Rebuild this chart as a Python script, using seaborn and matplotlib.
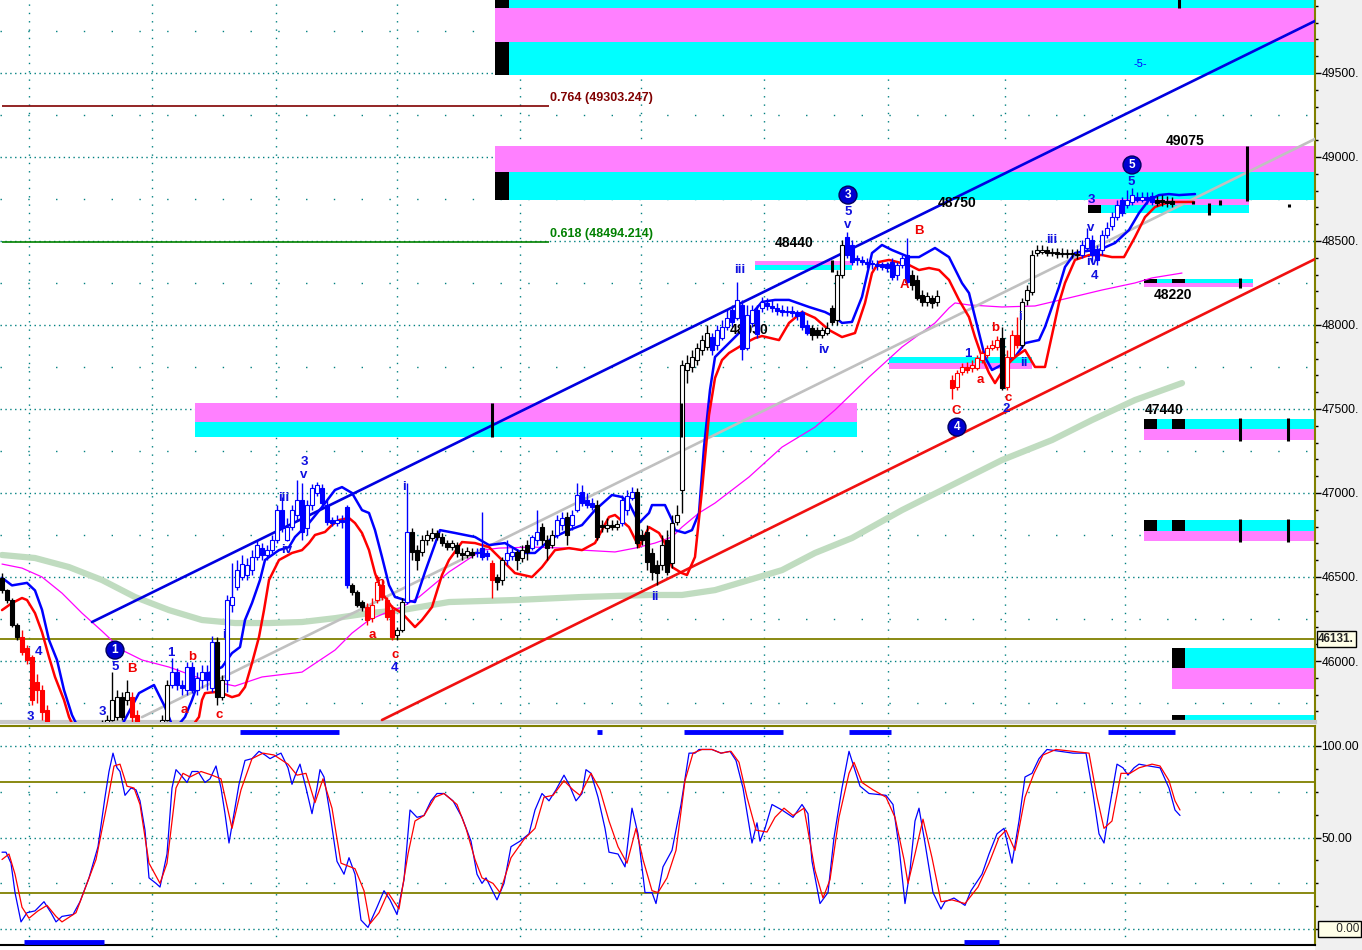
import matplotlib
matplotlib.use("Agg")
import matplotlib.pyplot as plt
from matplotlib.patches import Rectangle
from matplotlib.ticker import MultipleLocator
import numpy as np
import pandas as pd
import seaborn as sns

sns.set_style("white")
plt.rcParams['font.family'] = ['Liberation Sans', 'DejaVu Sans']

# 5 minute bars, x axis = minutes from the left edge
BAR_MIN = 5

# candles (open, high, low, close)
bars_drop = [
    (46495, 46525, 46405, 46420), (46420, 46430, 46345, 46365), (46365, 46375, 46205, 46215),
    (46215, 46225, 46125, 46145), (46140, 46185, 46035, 46055), (46080, 46095, 45980, 46005),
    (46025, 46035, 45740, 45770), (45875, 45920, 45750, 45830), (45830, 45860, 45650, 45695),
    (45710, 45740, 45560, 45590), (45590, 45620, 45470, 45500), (45500, 45520, 45420, 45440),
    (45440, 45460, 45360, 45380), (45380, 45430, 45360, 45410), (45410, 45420, 45330, 45350),
    (45350, 45400, 45330, 45380), (45380, 45480, 45370, 45470), (45470, 45510, 45450, 45500),
    (45500, 45540, 45480, 45530), (45530, 45570, 45510, 45560),
]
bars_wave1 = [
    (45560, 45650, 45530, 45620), (45620, 45680, 45590, 45650), (45650, 45935, 45640, 45770),
    (45665, 45830, 45650, 45785), (45785, 45815, 45650, 45665), (45770, 45885, 45740, 45815),
    (45785, 45815, 45620, 45665), (45680, 45710, 45530, 45560), (45560, 45580, 45480, 45500),
    (45500, 45520, 45450, 45470), (45470, 45520, 45460, 45500), (45500, 45570, 45490, 45560),
    (45560, 45680, 45530, 45650), (45650, 45885, 45640, 45860), (45860, 46020, 45840, 45935),
    (45935, 45960, 45830, 45860), (45860, 45885, 45800, 45840), (45830, 45995, 45800, 45965),
    (45965, 45995, 45810, 45830), (45830, 45935, 45800, 45900), (45885, 45975, 45840, 45935),
    (45935, 45975, 45830, 45885), (45840, 46150, 45815, 46115), (46115, 46145, 45740, 45785),
    (45785, 45915, 45770, 45885),
]
bars_wave3 = [
    (45885, 46390, 45815, 46365), (46335, 46585, 46290, 46380), (46440, 46600, 46420, 46540),
    (46500, 46630, 46480, 46580), (46510, 46615, 46480, 46570), (46540, 46660, 46510, 46620),
    (46620, 46720, 46600, 46690), (46670, 46700, 46600, 46630), (46630, 46690, 46600, 46660),
    (46660, 46750, 46645, 46720), (46720, 46930, 46700, 46900), (46900, 46975, 46770, 46790),
    (46720, 46850, 46715, 46800), (46800, 46930, 46780, 46900), (46870, 47075, 46840, 46960),
    (46960, 47060, 46720, 46770), (46790, 46960, 46750, 46930), (46930, 47055, 46900, 47030),
    (47000, 47065, 46980, 47045), (47030, 47055, 46920, 46940), (46930, 46960, 46810, 46825),
    (46840, 46855, 46805, 46820), (46820, 46870, 46805, 46840), (46840, 46870, 46790, 46825),
    (46915, 46930, 46435, 46450),
]
bars_wave4 = [
    (46450, 46465, 46395, 46410), (46410, 46420, 46320, 46335), (46350, 46365, 46300, 46320),
    (46320, 46345, 46215, 46245), (46255, 46375, 46230, 46335), (46365, 46510, 46345, 46470),
    (46450, 46480, 46365, 46380), (46365, 46380, 46245, 46260), (46305, 46335, 46125, 46145),
    (46155, 46200, 46125, 46185), (46185, 46375, 46170, 46350), (46350, 47060, 46340, 46770),
    (46770, 46790, 46600, 46650), (46660, 46690, 46540, 46600), (46650, 46750, 46625, 46720),
    (46720, 46780, 46690, 46750), (46730, 46790, 46715, 46760), (46760, 46780, 46720, 46740),
    (46740, 46760, 46685, 46700), (46700, 46720, 46660, 46680), (46680, 46720, 46660, 46700),
    (46690, 46710, 46620, 46645), (46645, 46675, 46600, 46630), (46630, 46680, 46615, 46655),
    (46650, 46675, 46615, 46630), (46650, 46675, 46620, 46640), (46675, 46885, 46600, 46620),
    (46645, 46660, 46600, 46625), (46585, 46600, 46375, 46480), (46500, 46520, 46420, 46470),
    (46480, 46620, 46450, 46600), (46600, 46720, 46570, 46645), (46625, 46675, 46600, 46650),
    (46650, 46660, 46540, 46600), (46615, 46690, 46590, 46660), (46690, 46720, 46600, 46650),
    (46675, 46750, 46660, 46740), (46720, 46900, 46690, 46770), (46800, 46820, 46690, 46720),
    (46720, 46750, 46600, 46675), (46690, 46780, 46675, 46750), (46750, 46870, 46730, 46840),
    (46810, 46885, 46780, 46850), (46855, 46885, 46690, 46750), (46810, 46900, 46780, 46870),
    (46900, 47060, 46885, 46990), (47005, 47045, 46920, 46940), (46960, 47000, 46910, 46930),
    (46940, 46970, 46900, 46915), (46930, 46960, 46720, 46740), (46810, 46840, 46770, 46800),
    (46790, 46850, 46770, 46810), (46810, 46840, 46780, 46800), (46800, 46840, 46780, 46815),
    (46820, 46990, 46805, 46960), (46900, 47020, 46870, 46980), (46970, 47035, 46960, 47005),
    (47005, 47030, 46670, 46700), (46750, 46780, 46690, 46720), (46770, 46810, 46540, 46590),
    (46645, 46675, 46480, 46530), (46570, 46600, 46450, 46525), (46570, 46750, 46540, 46690),
    (46720, 46780, 46510, 46530), (46585, 46870, 46555, 46820), (46825, 46930, 46810, 46870),
]
bars_rally = [
    (47015, 47790, 46880, 47760), (47730, 47820, 47655, 47775), (47750, 47850, 47720, 47810),
    (47790, 47895, 47760, 47865), (47850, 47940, 47820, 47910), (47870, 48000, 47850, 47950),
    (47930, 47955, 47820, 47850), (47880, 48000, 47850, 47970), (47925, 48030, 47910, 47985),
    (47985, 48090, 47970, 48040), (48090, 48120, 47985, 48015), (48040, 48255, 48030, 48150),
    (48120, 48150, 47790, 47855), (47865, 48120, 47850, 48060), (48010, 48120, 47985, 48090),
    (48090, 48120, 47925, 47945), (48100, 48165, 48075, 48135), (48130, 48160, 48090, 48110),
    (48115, 48150, 48075, 48100), (48100, 48130, 48060, 48085), (48090, 48120, 48055, 48080),
    (48085, 48110, 48055, 48075), (48085, 48110, 48045, 48070), (48075, 48090, 48030, 48055),
    (48075, 48090, 47970, 47985), (48000, 48030, 47940, 47955), (47980, 48000, 47910, 47940),
    (47970, 47985, 47925, 47940), (47940, 47985, 47925, 47970), (47955, 48015, 47940, 47980),
    (48100, 48120, 48000, 48015), (48030, 48325, 48000, 48295), (48295, 48505, 48280, 48475),
]
bars_top3 = [
    (48525, 48555, 48400, 48415), (48475, 48505, 48355, 48375), (48400, 48415, 48355, 48385),
    (48385, 48410, 48355, 48375), (48375, 48400, 48340, 48365), (48370, 48385, 48335, 48360),
    (48365, 48385, 48325, 48350), (48360, 48375, 48325, 48345), (48360, 48375, 48315, 48340),
    (48375, 48400, 48270, 48285), (48295, 48375, 48270, 48355), (48355, 48415, 48340, 48400),
    (48415, 48515, 48240, 48255), (48295, 48325, 48210, 48240), (48270, 48295, 48150, 48160),
    (48180, 48210, 48115, 48135), (48135, 48195, 48115, 48170), (48160, 48180, 48100, 48130),
    (48135, 48210, 48115, 48175),
]
bars_gap = [None, None]
bars_wave4b = [
    (47670, 47700, 47560, 47625), (47630, 47730, 47610, 47715), (47720, 47775, 47700, 47750),
    (47750, 47780, 47715, 47730), (47745, 47790, 47720, 47760), (47745, 47820, 47730, 47805),
    (47790, 47850, 47775, 47835), (47820, 47880, 47805, 47865), (47865, 47910, 47850, 47880),
    (47870, 47935, 47850, 47910), (47925, 47985, 47615, 47625), (47630, 47850, 47615, 47810),
    (47810, 47970, 47790, 47940), (47940, 48045, 47865, 47880), (47880, 48160, 47865, 48135),
    (48150, 48240, 48120, 48210), (48195, 48445, 48180, 48415), (48430, 48475, 48410, 48445),
    (48435, 48475, 48420, 48445), (48445, 48470, 48410, 48430), (48430, 48460, 48410, 48435),
    (48435, 48460, 48400, 48425), (48425, 48460, 48405, 48430), (48430, 48455, 48400, 48420),
    (48420, 48450, 48400, 48425), (48425, 48450, 48390, 48415),
]
bars_wave5 = [
    (48415, 48505, 48400, 48475), (48460, 48580, 48445, 48520), (48505, 48535, 48375, 48415),
    (48445, 48475, 48355, 48385), (48445, 48565, 48415, 48535), (48535, 48615, 48520, 48580),
    (48590, 48670, 48565, 48645), (48645, 48745, 48625, 48715), (48745, 48760, 48650, 48665),
    (48715, 48805, 48695, 48745), (48730, 48815, 48715, 48775), (48760, 48790, 48730, 48745),
    (48745, 48790, 48730, 48760), (48760, 48790, 48720, 48745), (48765, 48790, 48715, 48730),
    (48745, 48770, 48710, 48725), (48745, 48775, 48710, 48730), (48740, 48765, 48705, 48725),
    (48735, 48760, 48700, 48720),
]

# wave colouring of the bars (first bar, last bar, scheme)
color_runs = [
    (0, 3, 'bw'), (4, 19, 'red'), (20, 25, 'bw'), (26, 31, 'red'), (32, 33, 'bw'),
    (34, 42, 'blue'), (43, 44, 'bw'), (45, 69, 'blue'), (70, 72, 'bw'), (73, 78, 'red'),
    (79, 80, 'bw'), (81, 81, 'blue'), (82, 94, 'bw'), (95, 97, 'blue'), (98, 98, 'red'),
    (99, 100, 'bw'), (101, 102, 'blue'), (103, 105, 'bw'), (106, 107, 'blue'), (108, 110, 'bw'),
    (111, 112, 'blue'), (113, 113, 'bw'), (114, 118, 'blue'), (119, 123, 'bw'), (124, 126, 'blue'),
    (127, 141, 'bw'), (142, 161, 'blue'), (162, 168, 'bw'), (169, 181, 'blue'), (182, 189, 'bw'),
    (190, 199, 'red'), (200, 200, 'bw'), (201, 203, 'red'), (204, 215, 'bw'), (216, 230, 'blue'),
    (231, 234, 'bw'),
]

# envelope bands (minute, price)
env_up_t = [0, 10, 25, 33, 40, 47, 55, 62, 70, 80, 100, 120, 137, 152, 163, 172, 183, 190, 197, 207,
            220, 230, 238, 243, 250, 258, 263, 277, 287, 293, 307, 320, 333, 340, 350, 360, 367, 373, 380, 387,
            393, 403, 413, 423, 438, 453, 473, 487, 503, 520, 533, 550, 567, 580, 593, 610, 620, 627, 637, 647,
            650, 663, 670, 673, 683, 690, 697, 702, 708, 713, 720, 730, 743, 753, 760, 773, 787, 807, 823, 833,
            840, 850, 860, 870, 880, 890, 907, 917, 933, 947, 960, 967, 973, 983, 990, 1003, 1013, 1023, 1037, 1043,
            1057, 1063, 1073, 1083, 1097, 1113, 1127, 1137, 1147, 1157, 1167, 1177, 1193]
env_up_p = [46495, 46450, 46465, 46420, 46305, 46125, 46006, 45827, 45678, 45559, 45500, 45619, 45809, 45857, 45726, 45589, 45667, 45768, 45887, 45928,
            45964, 46047, 46083, 46244, 46345, 46482, 46601, 46660, 46678, 46738, 46821, 46916, 47018, 47035, 47000, 46898, 46881, 46779, 46619, 46452,
            46381, 46363, 46351, 46530, 46779, 46762, 46738, 46690, 46702, 46643, 46643, 46732, 46779, 46809, 46898, 46988, 46976, 46940, 46821, 46881,
            46928, 46928, 46839, 46779, 46762, 46779, 46881, 47273, 47613, 47809, 47851, 47910, 47988, 48089, 48137, 48149, 48149, 48107, 48077, 48047,
            48012, 48018, 48167, 48428, 48476, 48446, 48404, 48404, 48458, 48404, 48249, 48190, 48047, 47809, 47732, 47773, 47809, 47892, 47910, 47988,
            48226, 48345, 48428, 48440, 48446, 48488, 48565, 48666, 48744, 48773, 48779, 48773, 48779]
env_lo_t = [0, 10, 20, 25, 33, 40, 47, 53, 62, 67, 80, 110, 150, 180, 197, 200, 203, 213, 220, 230,
            237, 243, 250, 257, 262, 267, 277, 290, 300, 307, 313, 323, 330, 337, 347, 353, 360, 367, 373, 380,
            390, 400, 413, 420, 430, 440, 447, 460, 473, 487, 500, 513, 530, 540, 553, 567, 580, 593, 607, 613,
            627, 637, 647, 657, 663, 670, 680, 685, 693, 700, 707, 713, 720, 727, 737, 743, 753, 760, 777, 787,
            800, 813, 827, 840, 853, 863, 870, 877, 887, 907, 917, 927, 937, 947, 957, 967, 973, 980, 987, 993,
            1003, 1013, 1023, 1033, 1043, 1050, 1057, 1063, 1073, 1087, 1100, 1110, 1122, 1133, 1143, 1153, 1167, 1180, 1192]
env_lo_p = [46303, 46345, 46375, 46363, 46285, 46172, 46024, 45905, 45768, 45667, 45500, 45351, 45410, 45530, 45667, 45768, 45809, 45815, 45809, 45785,
            45797, 45845, 45988, 46143, 46303, 46482, 46601, 46643, 46660, 46702, 46750, 46768, 46809, 46839, 46851, 46821, 46762, 46660, 46523, 46405,
            46321, 46285, 46202, 46244, 46321, 46512, 46601, 46708, 46702, 46678, 46601, 46523, 46500, 46559, 46660, 46672, 46660, 46702, 46857, 46869,
            46797, 46678, 46797, 46762, 46702, 46559, 46523, 46512, 46619, 47018, 47464, 47684, 47791, 47833, 47869, 47892, 47922, 47934, 47910, 48012,
            48077, 48042, 47970, 47928, 47952, 48131, 48309, 48375, 48387, 48357, 48327, 48339, 48327, 48268, 48149, 48047, 47928, 47809, 47714, 47654,
            47750, 47809, 47851, 47750, 47750, 47940, 48131, 48250, 48387, 48416, 48416, 48404, 48404, 48523, 48642, 48702, 48732, 48732, 48732]

# moving averages
mag_t = [0, 20, 40, 60, 80, 100, 120, 140, 167, 200, 233, 260, 300, 333, 350, 367, 383, 400, 417, 447,
         480, 497, 530, 563, 580, 613, 633, 653, 670, 680, 697, 713, 747, 780, 813, 833, 867, 900, 933, 947,
         953, 967, 1000, 1033, 1067, 1100, 1133, 1150, 1180]
mag_p = [46577, 46553, 46500, 46404, 46285, 46178, 46065, 46006, 45964, 45893, 45851, 45905, 45934, 46065, 46166, 46244, 46285, 46321, 46381, 46530,
         46660, 46672, 46678, 46672, 46660, 46649, 46672, 46702, 46738, 46797, 46881, 46940, 47095, 47273, 47392, 47494, 47690, 47869, 48012, 48101,
         48131, 48119, 48107, 48113, 48161, 48208, 48250, 48280, 48309]
ma_t = [0, 33, 67, 100, 133, 167, 200, 233, 267, 300, 333, 367, 400, 447, 513, 580, 647, 680, 713, 747,
        780, 813, 850, 900, 950, 1000, 1050, 1090, 1133, 1180]
ma_p = [46631, 46613, 46559, 46482, 46381, 46303, 46244, 46226, 46226, 46232, 46255, 46285, 46303, 46351, 46363, 46381, 46393, 46393, 46422, 46482,
        46541, 46643, 46732, 46898, 47047, 47196, 47315, 47434, 47553, 47654]

# trend lines (minute, price)
trend_blue = [(90, 46232), (1315, 49815)]
trend_gray = [(140, 45666), (1315, 49113)]
trend_red = [(380, 45649), (1315, 48398)]
fib_levels = [(0.764, 49303.247), (0.618, 48494.214)]
last_price = 46131

# supply / demand zones (start, end, low, high, kind)
zones = [
    (493, 1315, 49886, 49990, 'c'), (493, 1315, 49684, 49886, 'm'), (493, 1315, 49488, 49684, 'c'),
    (493, 1315, 48910, 49065, 'm'), (493, 1315, 48744, 48910, 'c'),
    (1086, 1247, 48714, 48750, 'm'), (1086, 1247, 48666, 48714, 'c'),
    (753, 850, 48357, 48381, 'm'), (753, 850, 48327, 48357, 'c'),
    (1142, 1251, 48250, 48273, 'c'), (1142, 1251, 48226, 48250, 'm'),
    (887, 1030, 47773, 47809, 'c'), (887, 1030, 47738, 47773, 'm'),
    (193, 855, 47422, 47535, 'm'), (193, 855, 47333, 47422, 'c'),
    (1142, 1315, 47381, 47440, 'c'), (1142, 1315, 47315, 47381, 'm'),
    (1142, 1315, 46773, 46839, 'c'), (1142, 1315, 46714, 46773, 'm'),
    (1170, 1315, 45958, 46077, 'c'), (1170, 1315, 45833, 45958, 'm'),
    (1170, 1315, 45600, 45678, 'c'),
]
zone_blocks = [
    (493, 507, 49886, 49990), (493, 507, 49488, 49684), (493, 507, 48744, 48910),
    (1086, 1099, 48666, 48714), (1142, 1155, 48250, 48273), (1170, 1183, 48250, 48273),
    (1142, 1155, 47381, 47440), (1170, 1183, 47381, 47440), (1142, 1155, 46773, 46839),
    (1170, 1183, 46773, 46839), (1170, 1183, 45958, 46077), (1170, 1183, 45600, 45678),
]
zone_ticks = [
    (490, 47333, 47535), (679, 47333, 47535), (830, 48315, 48387), (1245, 48740, 49065),
    (1177, 49886, 49990), (1238, 48220, 48280), (1238, 47310, 47445), (1286, 47310, 47445),
    (1238, 46710, 46845), (1286, 46710, 46845), (1207, 48654, 48726), (1218, 48714, 48744),
    (1287, 48702, 48720), (1191, 48720, 48738),
]

# wave counts (minute, price, text)
waves_blue = [
    (28, 45666, '3'), (100, 45696, '3'), (113, 45964, '5'), (37, 46053, '4'), (169, 46047, '1'),
    (222, 46154, 'i'), (282, 46970, 'iii'), (302, 47184, '3'), (302, 47107, 'v'), (285, 46660, 'iv'),
    (402, 47035, 'i'), (393, 45958, '4'), (653, 46381, 'ii'), (738, 48327, 'iii'), (822, 47851, 'iv'),
    (846, 48672, '5'), (846, 48595, 'v'), (966, 47827, '1'), (1004, 47499, '2'), (1018, 48047, 'i'),
    (1022, 47773, 'ii'), (1050, 48506, 'iii'), (1089, 48577, 'v'), (1089, 48744, '3'), (1090, 48375, 'iv'),
    (1093, 48291, '4'), (1129, 48851, '5'),
]
waves_red = [
    (130, 45952, 'B'), (182, 45708, 'a'), (190, 46024, 'b'), (217, 45678, 'c'), (370, 46155, 'a'),
    (378, 46464, 'b'), (393, 46036, 'c'), (902, 48238, 'A'), (917, 48559, 'B'), (954, 47488, 'C'),
    (978, 47672, 'a'), (993, 47981, 'b'), (1006, 47565, 'c'),
]
waves_major = [(113, 46065, '1'), (846, 48773, '3'), (955, 47392, '4'), (1130, 48952, '5')]
level_labels = [
    (1183, 49095, '49075'), (955, 48726, '48750'), (792, 48488, '48440'), (747, 47970, '48030'),
    (1171, 48179, '48220'), (1162, 47494, '47440'),
]

# stochastic %K / %D (minute, value)
k_t = [0, 4, 9, 13, 19, 25, 33, 42, 49, 54, 60, 71, 78, 87, 96, 103, 107, 111, 115, 118,
       123, 129, 134, 138, 143, 147, 154, 158, 165, 170, 174, 179, 185, 190, 196, 203, 208, 214, 219, 223,
       227, 232, 237, 243, 250, 257, 263, 268, 275, 279, 286, 290, 294, 298, 304, 310, 315, 318, 322, 328,
       335, 342, 347, 353, 359, 366, 375, 382, 388, 395, 402, 408, 415, 422, 429, 435, 442, 451, 460, 469,
       475, 480, 484, 495, 502, 509, 518, 527, 533, 540, 547, 554, 562, 567, 574, 580, 584, 589, 596, 603,
       607, 616, 623, 630, 636, 643, 650, 654, 661, 670, 679,
       687, 693, 697, 710, 719, 728, 734, 741, 750, 755, 758, 763, 770, 780, 791, 800, 806, 810, 818, 826,
       832, 840, 847, 854, 858, 867, 884, 891, 897, 903, 908, 913, 917, 923, 931, 939, 943, 952, 963, 969,
       980, 987, 995, 1002, 1010, 1017, 1023, 1030, 1037, 1045, 1058, 1071, 1084, 1091, 1097, 1102, 1108, 1115, 1121, 1126,
       1132, 1137, 1147, 1158, 1167, 1173, 1178]
k_v = [42, 42, 36, 20, 4, 9, 10, 15, 9, 4, 7, 8, 15, 28, 45, 72, 86, 96, 88, 86,
       73, 77, 76, 70, 54, 28, 25, 23, 41, 77, 87, 84, 80, 86, 86, 80, 82, 89, 77, 63,
       47, 63, 79, 92, 93, 97, 95, 93, 95, 96, 88, 79, 85, 90, 77, 63, 77, 87, 83, 63,
       37, 30, 39, 30, 5, 1, 12, 21, 16, 8, 27, 65, 61, 62, 70, 74, 74, 70, 61, 48,
       30, 25, 28, 16, 25, 45, 48, 52, 65, 74, 70, 76, 84, 79, 70, 74, 87, 85, 72, 55,
       42, 41, 34, 66, 52, 20, 20, 14, 34, 43, 68,
       96, 96, 98, 98, 96, 97, 92, 77, 47, 58, 48, 55, 68, 65, 61, 68, 63, 37, 14, 20,
       50, 77, 97, 85, 78, 74, 73, 68, 45, 14, 32, 59, 66, 47, 20, 11, 15, 17, 13, 21,
       30, 41, 52, 55, 36, 59, 83, 85, 93, 98, 97, 96, 96, 74, 52, 47, 68, 90, 88, 84,
       88, 90, 89, 88, 77, 65, 62]
d_t = [0, 7, 13, 20, 27, 36, 45, 54, 60, 74, 85, 94, 105, 112, 118, 125, 132, 138, 147, 158,
       165, 174, 181, 188, 199, 210, 219, 230, 239, 250, 261, 272, 286, 295, 304, 313, 321, 330, 339, 353,
       362, 368, 377, 386, 397, 406, 413, 422, 433, 442, 455, 464, 473, 480, 491, 498, 509, 522, 533, 542,
       551, 562, 571, 578, 589, 598, 607, 616, 625, 634, 641, 650, 656, 665, 674, 683,
       691, 700, 710, 719, 729, 737, 745, 754, 765, 773, 782, 791, 802, 813, 821, 828, 837, 847, 852, 860,
       871, 884, 893, 902, 906, 913, 921, 930, 939, 950, 963, 976, 987, 997, 1004, 1013, 1023, 1032, 1041, 1054,
       1071, 1087, 1095, 1102, 1110, 1119, 1128, 1137, 1150, 1158, 1167, 1173, 1178]
d_v = [38, 41, 30, 12, 6, 10, 13, 7, 4, 9, 25, 38, 68, 89, 90, 78, 77, 68, 36, 25,
       36, 77, 85, 83, 86, 84, 82, 55, 76, 93, 96, 95, 90, 84, 85, 69, 82, 66, 36, 33,
       21, 3, 9, 20, 11, 41, 59, 62, 72, 74, 68, 55, 38, 28, 25, 20, 39, 49, 55, 72,
       73, 81, 76, 73, 85, 76, 59, 45, 36, 55, 38, 21, 20, 28, 43, 81,
       96, 98, 98, 96, 97, 91, 72, 54, 53, 61, 66, 62, 66, 32, 17, 27, 61, 85, 91, 80,
       76, 72, 61, 38, 25, 41, 60, 39, 15, 16, 14, 23, 36, 50, 54, 43, 72, 85, 95, 98,
       97, 96, 72, 55, 59, 85, 85, 88, 90, 89, 81, 70, 65]
signal_top = [(238, 337), (595, 600), (682, 781), (847, 889), (1106, 1173)]
signal_bottom = [(22, 102), (962, 997)]
grid_cols = [27, 150, 274, 395, 518, 639, 762, 886, 1003, 1123]

BLUE = '#0000ff'
RED = '#ff0000'
TEAL = '#008080'
OLIVE = '#808000'
ZONE_COL = {'c': '#00ffff', 'm': '#ff80ff'}
EDGE = {'bw': 'black', 'blue': BLUE, 'red': RED}
AXIS_FS = 8.8

W, H = 1362, 950
AX_R = 1315
fig = plt.figure(figsize=(W / 100, H / 100), dpi=100)
fig.patches.append(Rectangle((AX_R / W, 0), 1 - AX_R / W, 1, transform=fig.transFigure,
                             facecolor='#f0f0f0', edgecolor='none', zorder=-5))
ax = fig.add_axes([0, 1 - 722 / H, AX_R / W, 722 / H])
ax2 = fig.add_axes([0, 5 / H, AX_R / W, 219 / H])

# ---------- price panel ----------
ax.set_xlim(-2, AX_R - 2)
ax.set_ylim(45637, 49934)

for v in range(46000, 50000, 500):
    ax.axhline(v, color=TEAL, lw=1, ls=(0, (1, 2.5)), zorder=0.5)
for v in range(45750, 50000, 500):
    ax.axhline(v, color=TEAL, lw=1, ls=(0, (1, 19)), zorder=0.5)
for t in grid_cols:
    ax.axvline(t, color=TEAL, lw=1, ls=(0, (1, 5)), zorder=0.5)

for x0, x1, lo, hi, kind in zones:
    ax.add_patch(Rectangle((x0, lo), x1 - x0, hi - lo, facecolor=ZONE_COL[kind], edgecolor='none', zorder=1))
for x0, x1, lo, hi in zone_blocks:
    ax.add_patch(Rectangle((x0, lo), x1 - x0, hi - lo, facecolor='black', edgecolor='none', zorder=1.2))
for t, lo, hi in zone_ticks:
    ax.vlines(t, lo, hi, color='black', lw=2.2, zorder=6)

# fibonacci levels
for (ratio, lvl), col in zip(fib_levels, ['#800000', '#008000']):
    ax.hlines(lvl, 0, 547, color=col, lw=1.2, zorder=2)
    ax.text(548, lvl + 45, f'{ratio} ({lvl})', color=col, fontsize=9, fontweight='bold',
            ha='left', va='center', zorder=7)
ax.axhline(last_price, color=OLIVE, lw=1.3, zorder=2)

sns.lineplot(x=ma_t, y=ma_p, ax=ax, color='#c0dcc0', linewidth=4.5, estimator=None, sort=False, zorder=2)
sns.lineplot(x=mag_t, y=mag_p, ax=ax, color='#ff00ff', linewidth=0.9, estimator=None, sort=False, zorder=2.4)
for line, col in [(trend_gray, '#c0c0c0'), (trend_blue, '#0000e0'), (trend_red, '#f01010')]:
    tt, pp = zip(*line)
    sns.lineplot(x=list(tt), y=list(pp), ax=ax, color=col, linewidth=1.9, estimator=None, sort=False, zorder=2.6)
sns.lineplot(x=env_up_t, y=env_up_p, ax=ax, color=BLUE, linewidth=1.8, estimator=None, sort=False, zorder=3)
sns.lineplot(x=env_lo_t, y=env_lo_p, ax=ax, color=RED, linewidth=1.8, estimator=None, sort=False, zorder=3)

# candles
raw = bars_drop + bars_wave1 + bars_wave3 + bars_wave4 + bars_rally + bars_top3 + bars_gap + bars_wave4b + bars_wave5
scheme = ['bw'] * len(raw)
for a, b, s in color_runs:
    for i in range(a, b + 1):
        scheme[i] = s
rows = [dict(t=BAR_MIN * i, o=b[0], h=b[1], l=b[2], c=b[3], s=scheme[i]) for i, b in enumerate(raw) if b is not None]
df = pd.DataFrame(rows)
edge = df['s'].map(EDGE).tolist()
face = [('white' if c >= o else e) for o, c, e in zip(df.o, df.c, edge)]
lo = np.minimum(df.o, df.c)
hi = np.maximum(df.o, df.c)
ax.vlines(df.t, df.l, df.h, colors=edge, lw=1, zorder=4)
ax.bar(df.t, np.maximum(hi - lo, 6), bottom=lo, width=3.6, color=face, edgecolor=edge, linewidth=0.8, zorder=5)

# labels
for t, p, s in waves_blue:
    ax.text(t, p, s, color='#1010e0', fontsize=9.5, fontweight='bold', ha='center', va='center', zorder=7)
for t, p, s in waves_red:
    ax.text(t, p, s, color='#f00000', fontsize=9.5, fontweight='bold', ha='center', va='center', zorder=7)
for t, p, s in waves_major:
    ax.text(t, p, s, color='white', fontsize=8.5, fontweight='bold', ha='center', va='center', zorder=7,
            bbox=dict(boxstyle='circle,pad=0.25', fc='#0000d0', ec='#000060', lw=1))
for t, p, s in level_labels:
    ax.text(t, p, s, color='black', fontsize=10, fontweight='bold', ha='center', va='center', zorder=4.5)
ax.text(1138, 49553, '-5-', color=BLUE, fontsize=8, ha='center', va='center', zorder=7)

ax.set_xticks([])
ax.yaxis.tick_right()
ticks = list(range(46000, 50000, 500))
ax.set_yticks(ticks)
ax.set_yticklabels([f'{v}.' for v in ticks])
ax.yaxis.set_minor_locator(MultipleLocator(100))
ax.tick_params(axis='y', which='major', length=4, width=1, pad=0.5, labelsize=AXIS_FS, colors='black')
ax.tick_params(axis='y', which='minor', length=2.5, width=1, colors='black')
ax.text(1.0025, last_price, f'{last_price}.', transform=ax.get_yaxis_transform(), fontsize=AXIS_FS - 0.3,
        fontweight='bold', ha='left', va='center', zorder=8,
        bbox=dict(boxstyle='square,pad=0.15', fc='#ffffe8', ec='black', lw=1))
for side in ['left', 'top']:
    ax.spines[side].set_visible(False)
ax.spines['right'].set_color(OLIVE)
ax.spines['right'].set_linewidth(1.5)
ax.spines['bottom'].set_color('#c8c8c8')
ax.spines['bottom'].set_linewidth(3)
ax.set_xlabel('')
ax.set_ylabel('')

# ---------- stochastic panel ----------
ax2.set_xlim(-2, AX_R - 2)
ax2.set_ylim(-8.6, 110.8)
for v in [0, 50, 100]:
    ax2.axhline(v, color=TEAL, lw=1, ls=(0, (1, 2.5)), zorder=0.5)
for v in [25, 75]:
    ax2.axhline(v, color=TEAL, lw=1, ls=(0, (1, 19)), zorder=0.5)
for t in grid_cols:
    ax2.axvline(t, color=TEAL, lw=1, ls=(0, (1, 5)), zorder=0.5)
for v in [20, 80]:
    ax2.axhline(v, color=OLIVE, lw=1.3, zorder=1)
sns.lineplot(x=k_t, y=k_v, ax=ax2, color=BLUE, linewidth=0.9, estimator=None, sort=False, zorder=3)
sns.lineplot(x=d_t, y=d_v, ax=ax2, color=RED, linewidth=0.9, estimator=None, sort=False, zorder=3.1)
for x0, x1 in signal_top:
    ax2.hlines(107.5, x0, x1, color=BLUE, lw=3.5, zorder=4)
for x0, x1 in signal_bottom:
    ax2.hlines(-7.2, x0, x1, color=BLUE, lw=3.5, zorder=4)

ax2.set_xticks([])
ax2.yaxis.tick_right()
ax2.set_yticks([50, 100])
ax2.set_yticklabels(['50.00', '100.00'])
ax2.yaxis.set_minor_locator(MultipleLocator(12.5))
ax2.tick_params(axis='y', which='major', length=4, width=1, pad=0.5, labelsize=AXIS_FS, colors='black')
ax2.tick_params(axis='y', which='minor', length=2.5, width=1, colors='black')
ax2.text(1.004, 0, '     0.00', transform=ax2.get_yaxis_transform(), fontsize=AXIS_FS - 0.3, ha='left',
         va='center', zorder=8, bbox=dict(boxstyle='square,pad=0.15', fc='#ffffe8', ec='black', lw=1))
ax2.spines['left'].set_visible(False)
ax2.spines['top'].set_color(OLIVE)
ax2.spines['top'].set_linewidth(1.5)
ax2.spines['right'].set_color(OLIVE)
ax2.spines['right'].set_linewidth(1.5)
ax2.spines['bottom'].set_color('black')
ax2.spines['bottom'].set_linewidth(1.5)
ax2.set_xlabel('')
ax2.set_ylabel('')

fig.savefig('out.png', dpi=100)
